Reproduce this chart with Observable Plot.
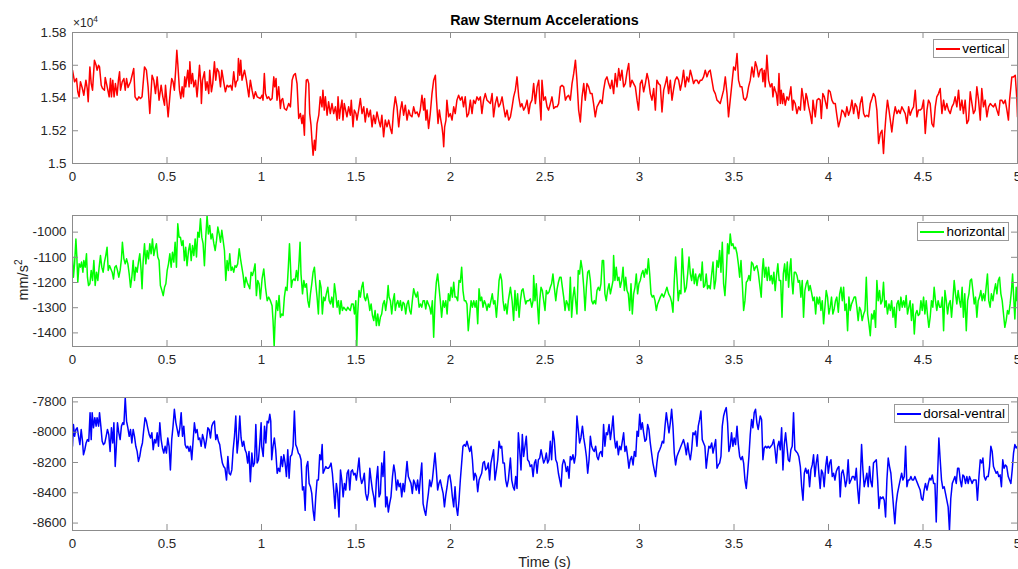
<!DOCTYPE html>
<html><head><meta charset="utf-8">
<script src="https://cdn.jsdelivr.net/npm/d3@7"></script>
<script src="https://cdn.jsdelivr.net/npm/@observablehq/plot@0.6"></script>
<style>
html,body{margin:0;padding:0;background:#fff;}
#chart{position:relative;width:1018px;height:569px;overflow:hidden;font-family:"Liberation Sans",Arial,Helvetica,sans-serif;color:#262626;}
#chart svg{position:absolute;left:0;}
.title{position:absolute;left:72px;width:945px;text-align:center;font-weight:bold;font-size:14.3px;line-height:14.3px;top:13px;color:#000;}
.xlabel{position:absolute;left:72px;width:945px;text-align:center;font-size:14.5px;line-height:14.5px;top:555px;}
.ylabel{position:absolute;left:23px;top:280px;font-size:14.5px;line-height:14.5px;white-space:nowrap;transform:translate(-50%,-50%) rotate(-90deg);}
.ylabel sup,.exp sup{font-size:70%;vertical-align:0.55em;line-height:0;}
.exp{position:absolute;left:73px;top:17px;font-size:12px;line-height:12px;}
.legend{position:absolute;right:9px;height:19px;box-sizing:border-box;border:1px solid #999;background:#fff;display:flex;align-items:center;padding:0 3px 0 2px;font-size:13.5px;color:#000;white-space:nowrap;}
.legend .swatch{width:24px;height:0;border-top:2px solid;margin-right:2px;}
</style></head>
<body><div id="chart"></div>
<script>
const xTicks = [0, 0.5, 1, 1.5, 2, 2.5, 3, 3.5, 4, 4.5, 5];
const vertTicks = [15000, 15200, 15400, 15600, 15800];
const horzTicks = [-1400, -1300, -1200, -1100, -1000];
const dorsTicks = [-8600, -8400, -8200, -8000, -7800];
const seriesNames = ["vertical", "horizontal", "dorsal-ventral"];
const seriesColors = ["#ff0000", "#00ff00", "#0000ff"];

// [time (s), acceleration] pairs
const vertical = [[0,15570],[.011,15499],[.021,15519],[.028,15438],[.035,15407],[.042,15499],[.051,15464],[.06,15417],[.071,15509],[.078,15458],[.083,15377],[.092,15590],[.099,15488],[.106,15448],[.116,15631],[.125,15600],[.13,15570],[.138,15600],[.143,15590],[.152,15478],[.159,15458],[.169,15448],[.173,15525],[.18,15488],[.187,15448],[.194,15407],[.201,15519],[.206,15407],[.213,15509],[.22,15407],[.227,15488],[.236,15417],[.243,15509],[.249,15560],[.254,15448],[.263,15499],[.272,15519],[.279,15448],[.286,15519],[.294,15464],[.307,15499],[.324,15580],[.331,15407],[.342,15387],[.351,15407],[.36,15397],[.368,15407],[.381,15590],[.391,15570],[.4,15468],[.409,15305],[.421,15539],[.43,15509],[.439,15427],[.448,15529],[.458,15387],[.469,15478],[.478,15407],[.487,15356],[.492,15478],[.506,15285],[.518,15448],[.525,15519],[.532,15499],[.539,15448],[.547,15590],[.552,15692],[.557,15611],[.566,15448],[.573,15397],[.58,15468],[.587,15407],[.594,15529],[.599,15468],[.61,15570],[.617,15468],[.621,15621],[.628,15488],[.635,15550],[.642,15468],[.651,15509],[.659,15407],[.665,15488],[.672,15600],[.679,15488],[.682,15366],[.688,15509],[.698,15560],[.705,15448],[.712,15499],[.721,15427],[.726,15570],[.735,15438],[.742,15488],[.751,15621],[.758,15509],[.765,15580],[.774,15560],[.783,15468],[.79,15570],[.8,15499],[.809,15438],[.818,15478],[.827,15468],[.836,15478],[.844,15448],[.853,15560],[.862,15468],[.867,15499],[.874,15509],[.878,15641],[.885,15539],[.89,15631],[.897,15509],[.91,15570],[.92,15509],[.933,15407],[.941,15509],[.95,15448],[.959,15397],[.968,15438],[.977,15407],[.994,15397],
[1.003,15417],[1.008,15387],[1.015,15550],[1.021,15427],[1.03,15397],[1.038,15407],[1.047,15387],[1.056,15397],[1.065,15529],[1.07,15468],[1.077,15519],[1.082,15387],[1.091,15468],[1.1,15336],[1.105,15387],[1.112,15397],[1.121,15336],[1.132,15326],[1.144,15366],[1.153,15346],[1.162,15509],[1.17,15539],[1.179,15550],[1.188,15488],[1.197,15275],[1.206,15305],[1.214,15244],[1.22,15295],[1.227,15173],[1.232,15387],[1.237,15509],[1.244,15513],[1.25,15488],[1.255,15305],[1.262,15234],[1.267,15142],[1.273,15051],[1.28,15142],[1.285,15081],[1.294,15244],[1.303,15295],[1.311,15407],[1.32,15346],[1.325,15448],[1.332,15326],[1.338,15407],[1.347,15295],[1.355,15377],[1.364,15305],[1.373,15366],[1.382,15305],[1.391,15346],[1.4,15265],[1.405,15407],[1.412,15275],[1.417,15326],[1.426,15387],[1.431,15265],[1.438,15366],[1.445,15326],[1.452,15285],[1.461,15346],[1.47,15295],[1.475,15387],[1.484,15224],[1.491,15326],[1.5,15305],[1.505,15265],[1.514,15326],[1.523,15397],[1.532,15305],[1.541,15346],[1.549,15254],[1.558,15336],[1.567,15285],[1.576,15326],[1.585,15224],[1.593,15295],[1.602,15244],[1.611,15315],[1.62,15265],[1.629,15224],[1.637,15295],[1.646,15163],[1.655,15265],[1.664,15224],[1.673,15265],[1.682,15214],[1.69,15183],[1.699,15326],[1.708,15407],[1.717,15346],[1.726,15224],[1.735,15326],[1.743,15377],[1.752,15295],[1.761,15356],[1.77,15265],[1.779,15326],[1.787,15295],[1.796,15285],[1.805,15346],[1.814,15305],[1.823,15315],[1.832,15285],[1.84,15326],[1.849,15417],[1.858,15326],[1.863,15397],[1.87,15265],[1.876,15326],[1.884,15214],[1.893,15305],[1.902,15427],[1.911,15509],[1.92,15539],[1.925,15407],[1.934,15244],[1.941,15326],[1.946,15285],[1.955,15224],[1.96,15173],[1.964,15102],[1.969,15224],[1.976,15265],[1.981,15387],[1.99,15285],[1.999,15305],[2.008,15265],[2.017,15346],[2.025,15305],[2.034,15387],[2.043,15417],[2.052,15387],[2.061,15407],[2.069,15346],[2.078,15407],[2.087,15285],[2.096,15305],[2.105,15387],[2.114,15305],[2.122,15387],[2.131,15366],[2.14,15407],[2.149,15387],[2.158,15407],[2.166,15305],[2.175,15387],[2.184,15427],[2.193,15387],[2.202,15377],[2.211,15366],[2.22,15427],[2.228,15285],[2.237,15366],[2.246,15407],[2.255,15346],[2.264,15366],[2.273,15407],[2.281,15346],[2.29,15285],[2.299,15326],[2.308,15265],
[2.317,15285],[2.326,15346],[2.334,15407],[2.343,15448],[2.352,15529],[2.361,15407],[2.37,15346],[2.378,15366],[2.387,15326],[2.396,15346],[2.405,15387],[2.414,15305],[2.422,15366],[2.431,15387],[2.44,15488],[2.449,15366],[2.458,15468],[2.467,15509],[2.472,15387],[2.479,15265],[2.484,15509],[2.493,15387],[2.502,15407],[2.511,15346],[2.519,15326],[2.528,15366],[2.537,15407],[2.546,15336],[2.555,15346],[2.564,15346],[2.572,15366],[2.581,15468],[2.59,15478],[2.599,15468],[2.608,15387],[2.616,15407],[2.625,15417],[2.634,15387],[2.643,15488],[2.652,15550],[2.661,15631],[2.669,15509],[2.678,15326],[2.687,15254],[2.696,15407],[2.705,15488],[2.713,15387],[2.722,15488],[2.731,15468],[2.74,15427],[2.749,15427],[2.757,15366],[2.766,15285],[2.775,15346],[2.784,15366],[2.793,15387],[2.802,15366],[2.81,15448],[2.819,15509],[2.828,15529],[2.837,15488],[2.846,15458],[2.854,15509],[2.863,15427],[2.872,15550],[2.881,15468],[2.89,15580],[2.898,15509],[2.907,15570],[2.916,15468],[2.925,15488],[2.934,15560],[2.943,15611],[2.951,15468],[2.96,15509],[2.969,15488],[2.978,15468],[2.987,15387],[2.995,15326],[3.004,15488],[3.013,15509],[3.022,15438],[3.031,15488],[3.04,15550],[3.048,15509],[3.057,15427],[3.066,15387],[3.075,15458],[3.084,15326],[3.092,15509],[3.101,15488],[3.11,15478],[3.119,15315],[3.128,15448],[3.137,15488],[3.145,15529],[3.154,15427],[3.163,15509],[3.172,15387],[3.181,15458],[3.189,15509],[3.198,15529],[3.207,15509],[3.216,15448],[3.225,15499],[3.233,15570],[3.242,15468],[3.251,15529],[3.26,15499],[3.269,15570],[3.278,15529],[3.286,15488],[3.295,15509],[3.304,15509],[3.313,15488],[3.322,15509],[3.33,15509],[3.339,15529],[3.348,15570],[3.357,15529],[3.366,15560],[3.374,15570],[3.383,15509],[3.392,15448],[3.401,15427],[3.41,15387],[3.419,15377],[3.427,15366],[3.436,15407],[3.445,15448],[3.454,15529],[3.463,15427],[3.471,15285],[3.48,15387],[3.489,15488],[3.498,15590],[3.507,15570],[3.516,15672],[3.524,15509],[3.533,15468],[3.542,15468],[3.551,15397],[3.56,15387],[3.568,15407],[3.577,15468],[3.586,15509],[3.595,15590],[3.604,15529],[3.613,15621],[3.621,15590],[3.63,15529],[3.639,15570],
[3.648,15580],[3.653,15499],[3.66,15570],[3.665,15468],[3.671,15590],[3.674,15661],[3.683,15509],[3.692,15468],[3.701,15488],[3.706,15407],[3.713,15468],[3.718,15448],[3.724,15427],[3.731,15356],[3.738,15550],[3.745,15366],[3.75,15448],[3.757,15366],[3.762,15427],[3.771,15356],[3.78,15407],[3.789,15387],[3.794,15417],[3.801,15468],[3.81,15326],[3.815,15387],[3.824,15366],[3.833,15305],[3.842,15346],[3.851,15326],[3.859,15458],[3.868,15387],[3.873,15326],[3.881,15427],[3.886,15407],[3.895,15346],[3.903,15305],[3.912,15244],[3.918,15387],[3.925,15326],[3.93,15285],[3.939,15387],[3.948,15397],[3.956,15387],[3.962,15275],[3.97,15427],[3.978,15407],[3.986,15366],[3.992,15336],[4,15448],[4.009,15438],[4.018,15387],[4.027,15366],[4.036,15366],[4.044,15295],[4.053,15224],[4.062,15265],[4.071,15326],[4.08,15315],[4.089,15285],[4.097,15346],[4.106,15295],[4.115,15326],[4.124,15387],[4.133,15305],[4.141,15366],[4.15,15346],[4.159,15275],[4.168,15366],[4.177,15407],[4.186,15305],[4.194,15285],[4.203,15295],[4.212,15285],[4.221,15366],[4.23,15397],[4.238,15427],[4.247,15407],[4.256,15326],[4.265,15122],[4.274,15183],[4.283,15203],[4.291,15061],[4.297,15183],[4.305,15305],[4.312,15387],[4.32,15326],[4.327,15265],[4.335,15193],[4.344,15285],[4.353,15346],[4.362,15305],[4.371,15326],[4.379,15305],[4.388,15346],[4.397,15326],[4.406,15305],[4.415,15244],[4.424,15346],[4.432,15295],[4.441,15326],[4.45,15346],[4.459,15448],[4.468,15285],[4.476,15326],[4.485,15326],[4.494,15336],[4.503,15387],[4.512,15183],[4.521,15326],[4.529,15387],[4.538,15366],[4.547,15244],[4.556,15224],[4.565,15346],[4.573,15407],[4.582,15427],[4.591,15458],[4.6,15305],[4.609,15387],[4.617,15326],[4.626,15366],[4.635,15326],[4.644,15305],[4.653,15346],[4.662,15366],[4.67,15407],[4.679,15346],[4.688,15448],[4.697,15326],[4.706,15387],[4.714,15305],[4.723,15387],[4.732,15244],[4.741,15265],[4.75,15438],[4.759,15366],[4.767,15305],[4.776,15326],[4.785,15468],[4.794,15387],[4.803,15265],[4.811,15458],[4.82,15346],[4.829,15387],[4.838,15285],[4.847,15346],[4.856,15366],[4.864,15356],[4.873,15346],[4.882,15366],[4.891,15326],[4.9,15295],[4.908,15387],[4.917,15387],[4.926,15366],[4.935,15387],[4.944,15326],[4.952,15265],[4.958,15387],[4.965,15468],[4.97,15529],[4.979,15529],[4.988,15539],[4.997,15387],[5,15285]];

const horizontal = [[0,-1099],[.005,-1179],[.011,-1126],[.018,-1027],[.023,-1099],[.028,-1199],[.035,-1126],[.042,-1139],[.048,-1119],[.055,-1159],[.06,-1113],[.067,-1139],[.074,-1086],[.079,-1179],[.085,-1212],[.092,-1205],[.099,-1152],[.106,-1192],[.113,-1113],[.12,-1212],[.127,-1159],[.134,-1192],[.141,-1139],[.148,-1093],[.155,-1139],[.162,-1159],[.169,-1119],[.176,-1093],[.183,-1060],[.189,-1152],[.196,-1133],[.203,-1146],[.21,-1159],[.217,-1186],[.224,-1139],[.231,-1133],[.238,-1152],[.245,-1179],[.252,-1152],[.259,-1106],[.264,-1040],[.272,-1106],[.279,-1126],[.286,-1106],[.293,-1126],[.3,-1166],[.307,-1219],[.314,-1179],[.321,-1113],[.328,-1192],[.335,-1139],[.342,-1159],[.349,-1119],[.356,-1086],[.363,-1152],[.368,-1225],[.374,-1113],[.381,-1046],[.388,-1126],[.395,-1073],[.402,-1106],[.409,-1046],[.416,-1086],[.423,-1027],[.43,-1093],[.437,-1066],[.444,-1046],[.451,-1099],[.458,-1113],[.465,-1212],[.473,-1232],[.48,-1252],[.487,-1219],[.494,-1205],[.501,-1152],[.508,-1126],[.515,-1086],[.522,-1139],[.529,-1080],[.536,-1119],[.543,-1040],[.55,-1139],[.557,-967],[.564,-1020],[.571,-1020],[.578,-1053],[.585,-1033],[.592,-1113],[.599,-1060],[.606,-1133],[.614,-1073],[.621,-1046],[.628,-1113],[.635,-1053],[.642,-1093],[.649,-1027],[.656,-1099],[.663,-1000],[.67,-1020],[.677,-947],[.684,-1020],[.691,-1046],[.698,-1133],[.705,-1020],[.712,-934],[.719,-1007],[.726,-974],[.733,-1027],[.74,-1007],[.748,-1046],[.755,-1073],[.762,-1033],[.769,-980],[.776,-1007],[.783,-1040],[.79,-993],[.797,-1033],[.804,-1073],[.811,-1192],[.818,-1113],[.825,-1152],[.832,-1086],[.839,-1152],[.846,-1139],[.853,-1159],[.86,-1133],[.867,-1139],[.874,-1126],[.882,-1066],[.889,-1106],[.896,-1139],[.903,-1172],[.91,-1219],[.917,-1179],[.924,-1199],[.931,-1212],[.938,-1225],[.945,-1159],[.952,-1172],[.959,-1152],[.966,-1126],[.973,-1252],[.98,-1192],[.987,-1205],[.994,-1265],
[1.003,-1186],[1.012,-1146],[1.021,-1219],[1.03,-1272],[1.038,-1258],[1.047,-1272],[1.056,-1292],[1.061,-1351],[1.067,-1454],[1.072,-1351],[1.079,-1272],[1.086,-1311],[1.093,-1252],[1.1,-1338],[1.107,-1325],[1.114,-1331],[1.121,-1258],[1.128,-1219],[1.135,-1232],[1.142,-1139],[1.148,-1046],[1.153,-1126],[1.158,-1219],[1.164,-1192],[1.171,-1186],[1.178,-1192],[1.185,-1152],[1.192,-1192],[1.199,-1113],[1.204,-1040],[1.209,-1166],[1.217,-1245],[1.224,-1192],[1.231,-1219],[1.238,-1205],[1.245,-1272],[1.252,-1298],[1.259,-1245],[1.266,-1205],[1.273,-1159],[1.28,-1139],[1.287,-1205],[1.294,-1258],[1.301,-1325],[1.308,-1192],[1.315,-1219],[1.322,-1325],[1.329,-1258],[1.336,-1272],[1.343,-1245],[1.351,-1219],[1.358,-1272],[1.365,-1285],[1.372,-1258],[1.379,-1298],[1.386,-1205],[1.393,-1245],[1.4,-1298],[1.407,-1272],[1.414,-1325],[1.421,-1272],[1.428,-1311],[1.435,-1298],[1.442,-1305],[1.449,-1311],[1.456,-1298],[1.463,-1305],[1.47,-1311],[1.477,-1285],[1.485,-1285],[1.492,-1325],[1.499,-1272],[1.504,-1454],[1.509,-1325],[1.516,-1232],[1.523,-1258],[1.53,-1219],[1.537,-1199],[1.544,-1258],[1.551,-1272],[1.559,-1245],[1.566,-1272],[1.573,-1311],[1.58,-1285],[1.587,-1331],[1.594,-1351],[1.601,-1311],[1.608,-1371],[1.615,-1325],[1.622,-1371],[1.629,-1338],[1.636,-1325],[1.643,-1285],[1.65,-1272],[1.657,-1311],[1.664,-1272],[1.67,-1212],[1.675,-1258],[1.682,-1272],[1.689,-1325],[1.696,-1272],[1.703,-1245],[1.708,-1311],[1.714,-1285],[1.721,-1272],[1.728,-1298],[1.735,-1272],[1.742,-1311],[1.749,-1278],[1.756,-1285],[1.763,-1325],[1.77,-1285],[1.777,-1272],[1.784,-1311],[1.791,-1325],[1.798,-1272],[1.805,-1225],[1.812,-1245],[1.819,-1258],[1.826,-1238],[1.834,-1298],[1.841,-1285],[1.848,-1298],[1.855,-1272],[1.862,-1272],[1.869,-1305],[1.876,-1272],[1.883,-1285],[1.89,-1298],[1.897,-1325],[1.904,-1272],[1.911,-1417],[1.918,-1272],[1.925,-1199],[1.932,-1166],[1.939,-1219],[1.946,-1272],[1.953,-1338],[1.961,-1272],[1.968,-1298],[1.975,-1272],[1.982,-1325],[1.989,-1245],[1.996,-1272],[2.003,-1219],[2.01,-1258],[2.017,-1199],[2.024,-1258],[2.031,-1258],[2.038,-1272],[2.045,-1192],[2.052,-1199],[2.059,-1139],[2.066,-1232],[2.073,-1272],[2.08,-1272],[2.087,-1285],[2.094,-1391],[2.102,-1325],[2.109,-1272],[2.116,-1298],[2.123,-1272],[2.13,-1298],[2.137,-1272],[2.144,-1364],[2.151,-1225],[2.158,-1272],[2.165,-1258],[2.172,-1298],[2.179,-1272],[2.186,-1285],[2.193,-1311],[2.2,-1285],[2.207,-1298],[2.214,-1272],[2.221,-1245],[2.228,-1285],[2.235,-1272],[2.243,-1338],[2.25,-1272],[2.257,-1192],[2.264,-1166],[2.271,-1192],[2.278,-1272],[2.285,-1311],[2.292,-1285],[2.299,-1325],[2.306,-1272],
[2.317,-1219],[2.326,-1272],[2.334,-1351],[2.341,-1232],[2.348,-1311],[2.355,-1245],[2.363,-1338],[2.37,-1272],[2.377,-1232],[2.384,-1225],[2.391,-1258],[2.398,-1285],[2.405,-1272],[2.414,-1272],[2.422,-1265],[2.43,-1298],[2.437,-1272],[2.44,-1172],[2.447,-1272],[2.454,-1205],[2.461,-1298],[2.467,-1364],[2.472,-1272],[2.479,-1219],[2.486,-1232],[2.493,-1272],[2.5,-1311],[2.507,-1232],[2.514,-1245],[2.521,-1238],[2.528,-1219],[2.535,-1205],[2.542,-1166],[2.549,-1219],[2.557,-1272],[2.564,-1225],[2.571,-1199],[2.578,-1179],[2.585,-1179],[2.592,-1219],[2.599,-1258],[2.606,-1311],[2.613,-1272],[2.62,-1285],[2.627,-1311],[2.634,-1179],[2.641,-1338],[2.648,-1258],[2.655,-1219],[2.662,-1272],[2.669,-1325],[2.676,-1152],[2.683,-1166],[2.69,-1113],[2.698,-1152],[2.705,-1219],[2.712,-1311],[2.719,-1219],[2.726,-1159],[2.733,-1152],[2.74,-1192],[2.747,-1272],[2.754,-1285],[2.761,-1272],[2.768,-1285],[2.775,-1232],[2.782,-1219],[2.789,-1232],[2.796,-1205],[2.803,-1113],[2.81,-1113],[2.817,-1245],[2.824,-1272],[2.831,-1232],[2.839,-1205],[2.846,-1245],[2.853,-1219],[2.86,-1192],[2.863,-1093],[2.87,-1192],[2.877,-1139],[2.884,-1192],[2.891,-1179],[2.898,-1219],[2.906,-1192],[2.913,-1139],[2.92,-1232],[2.927,-1179],[2.934,-1232],[2.941,-1245],[2.948,-1311],[2.955,-1205],[2.962,-1325],[2.969,-1245],[2.976,-1219],[2.983,-1166],[2.99,-1245],[2.997,-1205],[3.004,-1192],[3.011,-1166],[3.018,-1152],[3.025,-1179],[3.032,-1146],[3.04,-1166],[3.047,-1106],[3.054,-1166],[3.061,-1245],[3.068,-1258],[3.075,-1252],[3.082,-1272],[3.089,-1311],[3.096,-1285],[3.103,-1272],[3.11,-1258],[3.119,-1245],[3.128,-1258],[3.137,-1238],[3.145,-1219],[3.154,-1245],[3.163,-1258],[3.17,-1278],[3.177,-1318],[3.184,-1192],[3.191,-1099],[3.198,-1179],[3.205,-1272],[3.212,-1232],[3.219,-1245],[3.226,-1066],[3.233,-1166],[3.24,-1238],[3.248,-1219],[3.255,-1166],[3.262,-1099],[3.269,-1166],[3.276,-1192],[3.283,-1146],[3.29,-1205],[3.297,-1166],[3.304,-1212],[3.311,-1179],[3.318,-1166],[3.325,-1192],[3.332,-1119],[3.339,-1219],[3.346,-1212],[3.353,-1166],[3.36,-1225],[3.367,-1212],[3.374,-1225],[3.382,-1166],[3.389,-1119],[3.396,-1225],[3.403,-1192],[3.41,-1113],[3.417,-1139],[3.424,-1073],[3.431,-1159],[3.438,-1040],[3.445,-1205],[3.452,-1252],[3.459,-1166],[3.466,-1046],[3.473,-1086],[3.48,-1007],[3.487,-1053],[3.494,-1046],[3.501,-1066],[3.508,-1060],[3.516,-1086],[3.523,-1126],[3.53,-1179],[3.537,-1113],[3.544,-1205],[3.551,-1311],[3.558,-1272],[3.565,-1199],[3.572,-1192],[3.579,-1172],[3.586,-1192],[3.593,-1119],[3.6,-1126],[3.607,-1152],[3.614,-1139],[3.621,-1133],[3.628,-1159],
[3.644,-1258],[3.65,-1152],[3.655,-1106],[3.662,-1179],[3.669,-1139],[3.676,-1192],[3.683,-1139],[3.69,-1192],[3.697,-1172],[3.704,-1205],[3.711,-1159],[3.718,-1232],[3.725,-1172],[3.732,-1126],[3.739,-1192],[3.747,-1192],[3.754,-1338],[3.761,-1166],[3.768,-1126],[3.775,-1192],[3.782,-1119],[3.789,-1219],[3.796,-1139],[3.801,-1106],[3.806,-1192],[3.812,-1245],[3.819,-1159],[3.826,-1159],[3.833,-1172],[3.84,-1199],[3.847,-1192],[3.854,-1258],[3.861,-1192],[3.868,-1338],[3.875,-1232],[3.882,-1205],[3.889,-1192],[3.896,-1232],[3.903,-1212],[3.91,-1238],[3.918,-1272],[3.925,-1258],[3.932,-1325],[3.939,-1258],[3.946,-1285],[3.953,-1258],[3.96,-1311],[3.967,-1272],[3.974,-1364],[3.981,-1298],[3.988,-1232],[3.995,-1258],[4.002,-1325],[4.009,-1298],[4.016,-1258],[4.023,-1325],[4.03,-1305],[4.037,-1272],[4.044,-1258],[4.052,-1318],[4.059,-1245],[4.066,-1219],[4.073,-1272],[4.08,-1219],[4.087,-1311],[4.094,-1285],[4.101,-1391],[4.108,-1258],[4.115,-1311],[4.122,-1285],[4.129,-1272],[4.136,-1258],[4.143,-1258],[4.15,-1298],[4.157,-1351],[4.164,-1298],[4.171,-1311],[4.178,-1351],[4.186,-1325],[4.193,-1311],[4.2,-1179],[4.207,-1325],[4.214,-1364],[4.221,-1411],[4.228,-1325],[4.235,-1345],[4.242,-1311],[4.249,-1378],[4.256,-1192],[4.263,-1272],[4.27,-1232],[4.277,-1285],[4.284,-1272],[4.291,-1199],[4.298,-1298],[4.305,-1272],[4.312,-1325],[4.32,-1285],[4.327,-1311],[4.334,-1272],[4.341,-1338],[4.348,-1298],[4.355,-1378],[4.362,-1285],[4.369,-1272],[4.376,-1311],[4.383,-1258],[4.39,-1298],[4.397,-1272],[4.404,-1298],[4.411,-1252],[4.418,-1325],[4.425,-1298],[4.432,-1272],[4.439,-1351],[4.446,-1285],[4.454,-1404],[4.461,-1325],[4.468,-1311],[4.475,-1331],[4.482,-1325],[4.489,-1272],[4.496,-1311],[4.503,-1258],[4.51,-1325],[4.517,-1272],[4.524,-1331],[4.531,-1378],[4.538,-1338],[4.545,-1272],[4.552,-1298],[4.559,-1219],[4.566,-1272],[4.573,-1311],[4.58,-1272],[4.588,-1298],[4.595,-1298],[4.602,-1258],[4.609,-1391],[4.616,-1232],[4.623,-1272],[4.63,-1325],[4.637,-1285],[4.644,-1272],[4.651,-1338],[4.658,-1272],[4.665,-1192],[4.672,-1245],[4.679,-1285],[4.686,-1232],[4.693,-1272],[4.7,-1298],[4.707,-1219],[4.714,-1338],[4.721,-1245],[4.729,-1391],[4.736,-1272],[4.743,-1245],[4.75,-1192],[4.757,-1186],[4.764,-1232],[4.771,-1285],[4.778,-1258],[4.785,-1338],[4.792,-1272],[4.799,-1258],[4.806,-1232],[4.813,-1272],[4.82,-1245],[4.827,-1272],[4.834,-1219],[4.841,-1166],[4.848,-1272],[4.855,-1298],[4.862,-1245],[4.87,-1272],[4.877,-1232],[4.884,-1205],[4.891,-1245],[4.898,-1192],[4.905,-1179],[4.912,-1245],[4.919,-1272],[4.926,-1325],[4.933,-1378],[4.94,-1351],[4.947,-1311],[4.954,-1325],[4.961,-1285],[4.968,-1232],[4.974,-1166],[4.979,-1245],[4.986,-1345],[4.993,-1219],[4.998,-1272]];

const dorsalVentral = [[0,-8093],[.005,-7949],[.011,-8027],[.018,-7982],[.025,-7971],[.032,-8027],[.039,-8082],[.046,-7982],[.053,-8060],[.058,-8149],[.065,-8116],[.072,-8071],[.079,-8049],[.086,-8060],[.093,-7871],[.099,-8049],[.104,-7871],[.111,-7971],[.118,-7904],[.125,-7960],[.13,-7904],[.138,-7960],[.143,-7871],[.15,-7960],[.157,-8060],[.164,-8082],[.171,-8071],[.178,-8027],[.185,-7982],[.192,-8016],[.199,-8127],[.206,-7971],[.213,-8071],[.219,-7938],[.226,-8227],[.231,-8116],[.238,-7938],[.245,-8004],[.252,-8049],[.259,-7960],[.266,-7938],[.272,-7949],[.279,-7771],[.286,-7927],[.293,-7971],[.3,-8027],[.307,-7982],[.314,-8071],[.321,-7982],[.328,-8027],[.335,-8093],[.342,-8127],[.349,-8193],[.356,-8160],[.363,-8104],[.37,-8071],[.377,-7982],[.384,-7904],[.391,-7927],[.398,-7971],[.406,-8016],[.413,-8038],[.42,-8004],[.427,-8116],[.434,-8049],[.441,-8071],[.448,-8004],[.455,-8093],[.462,-7938],[.469,-8049],[.476,-8104],[.483,-8138],[.49,-8093],[.497,-8138],[.504,-8038],[.511,-8093],[.518,-8249],[.525,-8049],[.532,-7960],[.539,-7849],[.547,-7938],[.554,-7982],[.561,-8027],[.568,-7971],[.575,-7871],[.582,-8027],[.589,-7960],[.596,-8082],[.603,-8104],[.61,-8093],[.617,-8127],[.624,-8093],[.631,-8182],[.638,-8060],[.645,-7938],[.652,-8004],[.659,-7982],[.666,-8049],[.673,-8038],[.681,-8093],[.688,-8016],[.695,-8049],[.702,-8104],[.709,-8049],[.716,-7971],[.723,-7982],[.73,-8038],[.737,-7960],[.744,-7938],[.751,-7927],[.758,-8049],[.765,-8016],[.772,-8060],[.779,-8082],[.786,-8149],[.793,-8204],[.8,-8227],[.807,-8238],[.815,-8316],[.822,-8160],[.829,-8271],[.836,-8282],[.843,-8249],[.85,-8116],[.857,-8027],[.864,-7893],[.871,-8138],[.878,-8049],[.885,-7893],[.892,-8038],[.899,-8093],[.906,-8060],[.913,-8116],[.92,-8138],[.927,-8204],[.934,-8127],[.941,-8327],[.949,-8138],[.956,-8227],[.963,-8204],[.97,-7949],[.977,-8204],[.984,-8182],[.991,-8071],[.998,-7938],
[1.001,-8093],[1.009,-8160],[1.016,-7960],[1.023,-8071],[1.03,-7927],[1.037,-7938],[1.044,-7882],[1.049,-7927],[1.054,-8182],[1.061,-8093],[1.068,-8038],[1.075,-8116],[1.083,-8271],[1.09,-8238],[1.097,-8260],[1.104,-8160],[1.111,-8227],[1.118,-8149],[1.125,-8204],[1.132,-8293],[1.139,-8116],[1.146,-8304],[1.153,-8160],[1.16,-8149],[1.167,-8093],[1.174,-7860],[1.181,-8082],[1.188,-8104],[1.195,-8138],[1.202,-8149],[1.209,-8182],[1.217,-8382],[1.224,-8360],[1.231,-8516],[1.238,-8227],[1.245,-8193],[1.252,-8338],[1.259,-8360],[1.266,-8404],[1.273,-8516],[1.28,-8582],[1.287,-8427],[1.294,-8316],[1.301,-8316],[1.308,-8149],[1.315,-8182],[1.321,-8082],[1.326,-8271],[1.333,-8249],[1.34,-8227],[1.347,-8238],[1.354,-8238],[1.361,-8227],[1.368,-8204],[1.375,-8271],[1.382,-8382],[1.389,-8504],[1.396,-8338],[1.403,-8404],[1.41,-8560],[1.418,-8249],[1.425,-8316],[1.432,-8427],[1.439,-8338],[1.446,-8382],[1.453,-8271],[1.46,-8249],[1.467,-8382],[1.474,-8260],[1.481,-8249],[1.488,-8282],[1.495,-8271],[1.502,-8316],[1.509,-8249],[1.516,-8171],[1.523,-8293],[1.53,-8338],[1.537,-8316],[1.544,-8271],[1.551,-8404],[1.559,-8449],[1.566,-8404],[1.573,-8238],[1.58,-8316],[1.587,-8382],[1.594,-8427],[1.601,-8493],[1.608,-8316],[1.615,-8227],[1.622,-8427],[1.629,-8404],[1.636,-8204],[1.643,-8293],[1.65,-8127],[1.657,-8493],[1.664,-8427],[1.671,-8527],[1.678,-8471],[1.685,-8427],[1.693,-8293],[1.7,-8216],[1.707,-8271],[1.714,-8382],[1.721,-8316],[1.728,-8360],[1.735,-8338],[1.742,-8427],[1.749,-8338],[1.756,-8393],[1.763,-8293],[1.77,-8193],[1.777,-8293],[1.784,-8316],[1.791,-8338],[1.798,-8404],[1.805,-8316],[1.812,-8338],[1.819,-8382],[1.826,-8316],[1.834,-8404],[1.841,-8293],[1.848,-8204],[1.855,-8471],[1.862,-8516],[1.869,-8549],[1.876,-8471],[1.883,-8404],[1.89,-8316],[1.897,-8360],[1.904,-8316],[1.911,-8227],[1.918,-8138],[1.925,-8249],[1.932,-8382],[1.939,-8338],[1.946,-8316],[1.953,-8360],[1.961,-8404],[1.968,-8493],[1.975,-8415],[1.982,-8360],[1.989,-8293],[1.996,-8282],[2.003,-8338],[2.01,-8427],[2.017,-8493],[2.024,-8360],[2.031,-8493],[2.038,-8549],[2.045,-8449],[2.052,-8316],[2.059,-8204],[2.066,-8093],[2.073,-8082],[2.08,-8093],[2.087,-8060],[2.094,-8093],[2.102,-8127],[2.109,-8093],[2.116,-8182],[2.123,-8316],[2.13,-8271],[2.137,-8293],[2.144,-8393],[2.151,-8316],[2.158,-8293],[2.165,-8271],[2.172,-8204],[2.179,-8193],[2.186,-8249],[2.193,-8238],[2.2,-8204],[2.207,-8316],[2.214,-8204],[2.221,-8160],[2.228,-8116],[2.235,-8316],[2.243,-8249],[2.25,-8182],[2.257,-8060],[2.264,-8104],[2.271,-8093],[2.278,-8204],[2.285,-8204],[2.292,-8316],[2.299,-8360],[2.306,-8316],
[2.317,-8171],[2.324,-8316],[2.331,-8360],[2.338,-8382],[2.345,-8293],[2.352,-8371],[2.359,-8004],[2.366,-8116],[2.373,-8249],[2.38,-8016],[2.387,-8160],[2.394,-8093],[2.401,-8027],[2.408,-8182],[2.415,-8193],[2.422,-8227],[2.43,-8216],[2.437,-8293],[2.444,-8204],[2.451,-8182],[2.458,-8271],[2.465,-8182],[2.472,-8171],[2.479,-8116],[2.486,-8160],[2.493,-8204],[2.5,-8182],[2.507,-8138],[2.514,-8204],[2.521,-8182],[2.528,-8060],[2.535,-8182],[2.542,-7993],[2.549,-8049],[2.557,-8182],[2.564,-8204],[2.571,-8271],[2.578,-8316],[2.585,-8360],[2.592,-8216],[2.599,-8182],[2.606,-8204],[2.613,-8260],[2.62,-8227],[2.627,-8304],[2.634,-8160],[2.641,-8182],[2.648,-8149],[2.655,-8204],[2.662,-8149],[2.669,-7893],[2.676,-7982],[2.683,-8071],[2.69,-8038],[2.698,-7960],[2.705,-8038],[2.712,-8093],[2.719,-8160],[2.726,-8271],[2.733,-8182],[2.74,-8027],[2.747,-8093],[2.754,-8116],[2.761,-8127],[2.768,-8093],[2.775,-8160],[2.782,-8182],[2.789,-8138],[2.796,-8127],[2.803,-8160],[2.81,-7949],[2.817,-8093],[2.824,-8004],[2.831,-8016],[2.839,-7949],[2.846,-8049],[2.853,-7982],[2.86,-7893],[2.867,-8038],[2.874,-8104],[2.881,-8060],[2.888,-8149],[2.895,-8093],[2.902,-8116],[2.909,-8060],[2.916,-8004],[2.923,-8127],[2.93,-8093],[2.937,-8160],[2.944,-8238],[2.951,-8182],[2.958,-8160],[2.966,-8216],[2.973,-8127],[2.98,-8160],[2.987,-7993],[2.994,-8027],[3.001,-7882],[3.008,-7982],[3.015,-7938],[3.022,-8004],[3.029,-8060],[3.036,-8049],[3.043,-7949],[3.05,-7982],[3.057,-8071],[3.064,-8138],[3.071,-8204],[3.078,-8249],[3.085,-8293],[3.092,-8204],[3.099,-8138],[3.107,-8116],[3.114,-8093],[3.121,-8060],[3.128,-8071],[3.135,-7960],[3.142,-7871],[3.149,-7938],[3.156,-8004],[3.163,-7938],[3.17,-7849],[3.177,-7960],[3.184,-8138],[3.191,-8216],[3.198,-8160],[3.205,-8138],[3.212,-8116],[3.219,-8093],[3.226,-8071],[3.233,-8049],[3.241,-8093],[3.248,-8149],[3.255,-8071],[3.262,-8138],[3.269,-8182],[3.276,-8116],[3.283,-8004],[3.29,-8016],[3.297,-7993],[3.304,-8093],[3.311,-7960],[3.318,-7916],[3.325,-7860],[3.332,-8049],[3.339,-8071],[3.346,-8093],[3.353,-8238],[3.36,-8160],[3.367,-8093],[3.374,-8104],[3.382,-8071],[3.389,-8138],[3.396,-8093],[3.403,-8049],[3.41,-8238],[3.417,-8216],[3.424,-8204],[3.431,-8160],[3.438,-7960],[3.445,-7893],[3.452,-7860],[3.459,-7838],[3.466,-7938],[3.473,-8127],[3.48,-8093],[3.487,-8004],[3.494,-8093],[3.501,-8038],[3.508,-8082],[3.516,-7960],[3.523,-8082],[3.53,-8160],[3.537,-8182],[3.544,-8160],[3.551,-8204],[3.558,-8316],[3.565,-8371],[3.572,-8271],[3.579,-8160],[3.586,-8016],[3.593,-7916],[3.6,-7971],[3.607,-7871],[3.614,-7849],[3.621,-7938],[3.628,-7982],
[3.639,-7893],[3.646,-7916],[3.653,-8182],[3.66,-8104],[3.667,-8093],[3.674,-8104],[3.681,-8093],[3.688,-8104],[3.695,-8093],[3.702,-8082],[3.71,-8049],[3.717,-8116],[3.724,-8204],[3.731,-8093],[3.738,-8060],[3.745,-8116],[3.752,-7971],[3.759,-8249],[3.766,-8082],[3.773,-8004],[3.78,-8093],[3.787,-8182],[3.794,-8193],[3.801,-8116],[3.808,-8093],[3.815,-7871],[3.822,-8116],[3.829,-8127],[3.836,-8138],[3.843,-8160],[3.851,-8227],[3.858,-8360],[3.865,-8449],[3.872,-8271],[3.879,-8238],[3.886,-8271],[3.893,-8249],[3.9,-8360],[3.907,-8249],[3.914,-8216],[3.921,-8149],[3.928,-8293],[3.935,-8204],[3.942,-8149],[3.949,-8271],[3.956,-8371],[3.963,-8249],[3.97,-8271],[3.977,-8360],[3.985,-8227],[3.992,-8160],[3.999,-8271],[4.006,-8204],[4.013,-8182],[4.02,-8293],[4.027,-8271],[4.034,-8316],[4.041,-8260],[4.048,-8238],[4.055,-8227],[4.062,-8427],[4.069,-8271],[4.076,-8249],[4.083,-8293],[4.09,-8360],[4.097,-8316],[4.104,-8182],[4.111,-8338],[4.119,-8316],[4.126,-8293],[4.133,-8293],[4.14,-8316],[4.147,-8238],[4.154,-8371],[4.161,-8471],[4.168,-8316],[4.175,-8082],[4.182,-8249],[4.189,-8360],[4.196,-8316],[4.203,-8271],[4.21,-8360],[4.217,-8227],[4.224,-8327],[4.231,-8360],[4.238,-8204],[4.245,-8193],[4.253,-8182],[4.26,-8316],[4.267,-8504],[4.274,-8427],[4.281,-8438],[4.288,-8427],[4.295,-8449],[4.302,-8560],[4.309,-8316],[4.316,-8171],[4.323,-8227],[4.33,-8271],[4.337,-8382],[4.344,-8493],[4.351,-8604],[4.358,-8471],[4.365,-8404],[4.372,-8360],[4.379,-8316],[4.387,-8271],[4.394,-8316],[4.401,-8293],[4.408,-8093],[4.415,-8360],[4.422,-8316],[4.429,-8316],[4.436,-8293],[4.443,-8316],[4.45,-8316],[4.457,-8293],[4.464,-8316],[4.471,-8338],[4.478,-8360],[4.485,-8382],[4.492,-8438],[4.499,-8449],[4.506,-8382],[4.513,-8338],[4.521,-8382],[4.528,-8338],[4.535,-8304],[4.542,-8316],[4.549,-8282],[4.556,-8338],[4.563,-8338],[4.57,-8593],[4.577,-8293],[4.584,-8038],[4.591,-8182],[4.598,-8316],[4.605,-8371],[4.612,-8360],[4.619,-8404],[4.626,-8449],[4.633,-8493],[4.64,-8649],[4.647,-8438],[4.655,-8338],[4.662,-8316],[4.669,-8293],[4.676,-8338],[4.683,-8238],[4.69,-8238],[4.697,-8316],[4.704,-8360],[4.711,-8282],[4.718,-8293],[4.725,-8338],[4.732,-8293],[4.739,-8338],[4.746,-8293],[4.753,-8316],[4.76,-8338],[4.767,-8316],[4.774,-8316],[4.781,-8316],[4.788,-8449],[4.796,-8293],[4.803,-8182],[4.81,-8204],[4.817,-8171],[4.824,-8293],[4.831,-8316],[4.838,-8293],[4.845,-8293],[4.852,-8227],[4.859,-8093],[4.866,-8127],[4.873,-8227],[4.88,-8249],[4.887,-8271],[4.894,-8260],[4.901,-8293],[4.908,-8282],[4.915,-8360],[4.922,-8182],[4.929,-8238],[4.936,-8216],[4.943,-8227],[4.951,-8293],[4.958,-8316],[4.965,-8338],[4.972,-8249],[4.979,-8138],[4.986,-8082],[4.993,-8104],[5,-8093]];

const chart = document.getElementById("chart");
const W = 1018, ML = 72, MR = 1, TICK = 6;
const axisColor = "#8c8c8c";

const panels = [
  {series: vertical, domain: [15000, 15800], ticks: vertTicks, fmt: d => String(d / 1e4), top: 0, h: 190, mt: 32, mb: 27},
  {series: horizontal, domain: d3.extent(horizontal, d => d[1]), ticks: horzTicks, fmt: d => String(d), top: 190, h: 190, mt: 25, mb: 34},
  {series: dorsalVentral, domain: d3.extent(dorsalVentral, d => d[1]), ticks: dorsTicks, fmt: d => String(d), top: 380, h: 189, mt: 17, mb: 39}
];

panels.forEach((p, i) => {
  const data = p.series.map(([t, v]) => ({t, v}));
  const innerH = p.h - p.mt - p.mb;
  const innerW = W - ML - MR;
  const svg = Plot.plot({
    width: W, height: p.h,
    marginLeft: ML, marginRight: MR, marginTop: p.mt, marginBottom: p.mb,
    x: {domain: [0, 5]},
    y: {domain: p.domain},
    style: {fontFamily: '"Liberation Sans", Arial, sans-serif', fontSize: "13.3px", color: "#262626", background: "transparent"},
    marks: [
      Plot.line(data, {x: "t", y: "v", stroke: seriesColors[i], strokeWidth: 1.5, clip: true}),
      Plot.tickX(xTicks, {x: d => d, stroke: axisColor, insetTop: innerH - TICK}),
      Plot.tickX(xTicks, {x: d => d, stroke: axisColor, insetBottom: innerH - TICK}),
      Plot.tickY(p.ticks, {y: d => d, stroke: axisColor, insetRight: innerW - TICK}),
      Plot.tickY(p.ticks, {y: d => d, stroke: axisColor, insetLeft: innerW - TICK}),
      Plot.frame({stroke: axisColor}),
      Plot.axisX(xTicks, {tickSize: 0, tickPadding: 8, tickFormat: d => String(d), label: null}),
      Plot.axisY(p.ticks, {tickSize: 0, tickPadding: 6, tickFormat: p.fmt, label: null})
    ]
  });
  svg.style.top = p.top + "px";
  chart.appendChild(svg);

  const lg = document.createElement("div");
  lg.className = "legend";
  lg.style.top = (p.top + p.mt + 7) + "px";
  const sw = document.createElement("span");
  sw.className = "swatch";
  sw.style.borderTopColor = seriesColors[i];
  lg.appendChild(sw);
  lg.appendChild(document.createTextNode(seriesNames[i]));
  chart.appendChild(lg);
});

function addText(cls, html) {
  const d = document.createElement("div");
  d.className = cls;
  d.innerHTML = html;
  chart.appendChild(d);
}
addText("title", "Raw Sternum Accelerations");
addText("exp", "×10<sup>4</sup>");
addText("ylabel", "mm/s<sup>2</sup>");
addText("xlabel", "Time (s)");
</script>
</body></html>
